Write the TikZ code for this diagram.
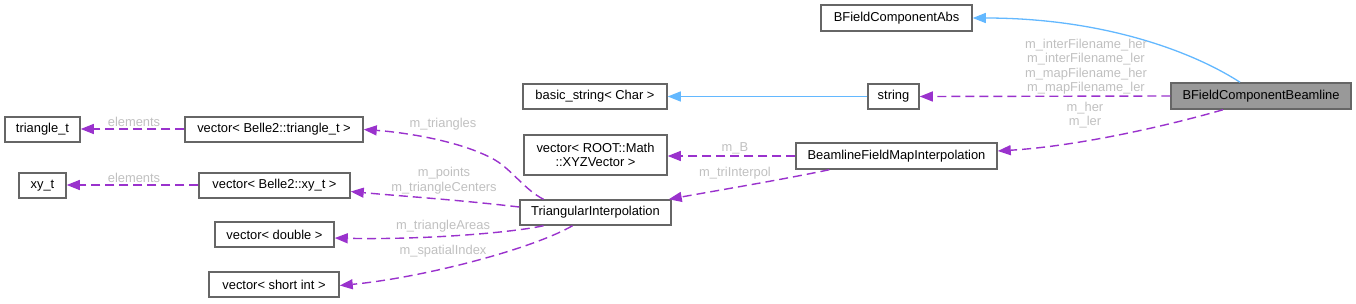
\documentclass[tikz,border=0pt]{standalone}
\usepackage{fontspec}
\setmainfont{Liberation Sans}
\usetikzlibrary{arrows.meta}
\definecolor{edgepurple}{HTML}{9A32CD}
\definecolor{edgeblue}{HTML}{63B8FF}
\definecolor{boxborder}{HTML}{666666}
\definecolor{labelgray}{HTML}{C0C0C0}
\definecolor{focusfill}{HTML}{999999}
\begin{document}
\begin{tikzpicture}[x=1pt,y=-1pt,
  every node/.style={font=\fontsize{12.9}{14.5}\selectfont},
  cls/.style={draw=boxborder,line width=1.5pt,fill=white,inner sep=0pt,align=center,text=black},
  focus/.style={cls,fill=focusfill},
  elabel/.style={text=labelgray,inner sep=0pt,align=center},
  usage/.style={draw=edgepurple,line width=1.4pt,dash pattern=on 9pt off 5pt,
     -{Triangle[length=13pt,width=10pt,fill=edgepurple]}},
  inherit/.style={draw=edgeblue,line width=1.3pt,
     -{Triangle[length=13pt,width=10pt,fill=edgeblue]}}
]
\useasboundingbox (0,0) rectangle (1356,303);
% nodes
\node[cls,minimum width=151pt,minimum height=26pt] (abs) at (896.5,18) {BFieldComponentAbs};
\node[focus,minimum width=180pt,minimum height=26pt] (beam) at (1261,96) {BFieldComponentBeamline};
\node[cls,minimum width=51pt,minimum height=25pt] (str) at (893.5,96.5) {string};
\node[cls,minimum width=144pt,minimum height=25pt] (bstr) at (595,96.5) {basic\_string< Char >};
\node[cls,minimum width=143pt,minimum height=40pt] (rootv) at (595.5,155) {vector< ROOT::Math\\::XYZVector >};
\node[cls,minimum width=201pt,minimum height=26pt] (bfmi) at (896.5,156) {BeamlineFieldMapInterpolation};
\node[cls,minimum width=151pt,minimum height=25pt] (tri) at (595.5,212.5) {TriangularInterpolation};
\node[cls,minimum width=75pt,minimum height=25pt] (trit) at (42.5,129.5) {triangle\_t};
\node[cls,minimum width=178pt,minimum height=25pt] (vtri) at (274,129.5) {vector< Belle2::triangle\_t >};
\node[cls,minimum width=47pt,minimum height=25pt] (xyt) at (42.5,185.5) {xy\_t};
\node[cls,minimum width=151pt,minimum height=25pt] (vxy) at (274.5,185.5) {vector< Belle2::xy\_t >};
\node[cls,minimum width=119pt,minimum height=25pt] (vdbl) at (274.5,234.5) {vector< double >};
\node[cls,minimum width=130pt,minimum height=25pt] (vsi) at (274,284.5) {vector< short int >};
% edges
\draw[inherit] ([xshift=-21pt]beam.north) .. controls (1190,50) and (1100,18) .. (abs.east);
\draw[inherit] (str.west) -- (bstr.east);
\draw[usage] (beam.west) -- (str.east);
\draw[usage] ([xshift=-38pt]beam.south) .. controls (1170,125) and (1080,146) .. ([yshift=5pt]bfmi.east);
\draw[usage] (bfmi.west) -- (rootv.east |- bfmi.west);
\draw[usage] ([xshift=34pt]bfmi.south west) .. controls (780,180) and (720,190) .. ([xshift=-3pt]tri.north east);
\draw[usage] ([xshift=-52pt]tri.north) .. controls (525,190) and (512,170) .. (495,160) .. controls (460,140) and (400,132) .. (vtri.east);
\draw[usage] ([yshift=5.5pt]tri.west) .. controls (460,200) and (400,196) .. ([yshift=-6pt]vxy.east);
\draw[usage] ([xshift=-52pt]tri.south) .. controls (510,233) and (420,240) .. ([yshift=-3.5pt]vdbl.east);
\draw[usage] ([xshift=-23pt]tri.south) .. controls (530,250) and (420,278) .. ([yshift=-1pt]vsi.east);
\draw[usage] ([yshift=0.5pt]vtri.west) -- ([yshift=0.5pt]trit.east);
\draw[usage] ([yshift=0.5pt]vxy.west) -- ([yshift=0.5pt]xyt.east);
% labels
\node[elabel] (l1) at (1086,66.5) {m\_interFilename\_her\\m\_interFilename\_ler\\m\_mapFilename\_her\\m\_mapFilename\_ler};
\node[elabel] (l2) at (1085,115) {m\_her\\m\_ler};
\node[elabel] (l3) at (735,148) {m\_B};
\node[elabel] (l4) at (735,173) {m\_triInterpol};
\node[elabel] (l5) at (443,124) {m\_triangles};
\node[elabel] (l6) at (444,180.5) {m\_points\\m\_triangleCenters};
\node[elabel] (l7) at (443,226) {m\_triangleAreas};
\node[elabel] (l8) at (443,251) {m\_spatialIndex};
\node[elabel] (l9) at (134,122) {elements};
\node[elabel] (l10) at (134,178) {elements};
\end{tikzpicture}
\end{document}
